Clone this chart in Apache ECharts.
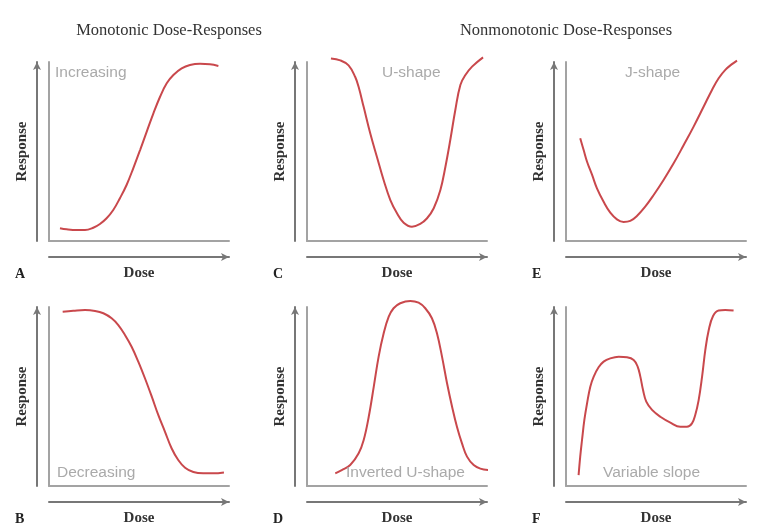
<!DOCTYPE html>
<html>
<head>
    <meta charset="utf-8">
    <title>Dose-Responses</title>
    <script src="https://cdn.jsdelivr.net/npm/echarts@6/dist/echarts.min.js"></script>
</head>
<body style="margin:0;background:#fff;">
    <div id="main" style="width:778px;height:528px;"></div>
    <script type="text/javascript">
        // curve shapes (x: dose 0-100, y: response 0-100)
        var incX = [6.1, 9.8, 15.4, 20, 24.6, 28.3, 32, 35.7, 39.4, 43.1, 46.8, 50.6, 54.3, 58, 61.7, 65.4, 69.1, 73.7, 78.3, 83.9, 89.4, 94.1];
        var incY = [7.1, 6.5, 6.1, 6.1, 7.4, 9.5, 12.7, 17.3, 23.9, 31.3, 40.6, 50.8, 61.1, 71.3, 80.6, 88.1, 92.7, 96.4, 98.3, 99, 98.7, 97.8];

        var decX = [7.6, 13.5, 20, 25.6, 30.2, 34.8, 38.5, 42.2, 45.9, 49.6, 53.3, 57.1, 60.7, 64.4, 68.1, 71.8, 75.6, 80.2, 85.7, 91.3, 97.2];
        var decY = [97.4, 97.9, 98.3, 97.8, 96.5, 93.7, 89.9, 84.4, 77.8, 69.5, 60.2, 49.9, 39.7, 30.4, 21.1, 14.5, 10.2, 7.8, 7.1, 7.1, 7.6];

        var uX = [13.3, 18.5, 23.1, 26.8, 28.7, 31.5, 35.2, 38.9, 42.6, 46.3, 50, 53.7, 58.3, 62.9, 66.7, 70.4, 74.1, 76.9, 79.6, 82.4, 85.2, 88, 91.7, 97.8];
        var uY = [102, 100.9, 98.1, 91.6, 86, 74.8, 59.9, 46.8, 33.9, 22.9, 15.5, 10.2, 8, 9.5, 12.7, 18.3, 28.5, 41.5, 56.4, 73.2, 87.2, 92.7, 97.4, 102.6];

        var invX = [15.7, 19.3, 24, 28.7, 31.5, 34.3, 37.1, 39.8, 42.6, 45.4, 48.1, 51.8, 57.4, 62, 65.7, 69.4, 72.2, 75, 77.8, 80.6, 83.3, 86.1, 88.9, 92.6, 96.3, 100.9];
        var invY = [7.1, 8.9, 11.7, 18.3, 25.7, 38.7, 55.5, 72.3, 85.3, 94.6, 99.3, 102.1, 103.4, 102.4, 99.3, 93.7, 85.3, 72.3, 57.4, 44.3, 33.1, 23.8, 16.4, 11.7, 9.7, 8.9];

        var jX = [7.9, 9.8, 11.7, 14.5, 17.2, 20.9, 24.6, 28.3, 32, 35.7, 39.4, 44, 48.7, 54.2, 59.8, 65.4, 70.9, 76.5, 81.1, 84.8, 88.5, 92.2, 95];
        var jY = [57.4, 50.8, 44.3, 36.9, 29.4, 21.9, 15.8, 12.1, 10.6, 11.2, 14, 19.2, 25.7, 34.1, 43.4, 53.6, 63.9, 75.1, 84.4, 90.9, 95.6, 98.8, 100.8];

        var varX = [7, 7.9, 8.9, 10.2, 11.7, 13.5, 15.4, 18.1, 20.9, 24.6, 29.3, 33.9, 37.6, 39.8, 41.3, 42.8, 44.6, 47.8, 52.4, 58, 63.5, 67.2, 70, 71.8, 73.7, 75.6, 77.4, 79.3, 81.7, 84.8, 88.5, 93.1];
        var varY = [6.1, 16.4, 25.7, 36.9, 46.2, 55.5, 61.1, 66.3, 69.5, 71.3, 72.2, 71.9, 70.4, 66.7, 61.1, 53.6, 47.1, 42.5, 38.7, 35.4, 33.1, 33.1, 35, 39.7, 48, 61.1, 76, 87.2, 95, 98, 98.3, 98];

        var panelLetters = ['A', 'B', 'C', 'D', 'E', 'F'];
        var panelLabels = ['Increasing', 'Decreasing', 'U-shape', 'Inverted U-shape', 'J-shape', 'Variable slope'];
        var headings = ['Monotonic Dose-Responses', 'Nonmonotonic Dose-Responses'];

        var curves = [[incX, incY], [decX, decY], [uX, uY], [invX, invY], [jX, jY], [varX, varY]];

        // panel positions (column, row)
        var colLeft = [49, 307, 566];
        var rowTop = [62, 307];
        var plotW = 180, plotH = 179;

        var serif = 'Liberation Serif';
        var sans = 'Liberation Sans';

        var myChart = echarts.init(document.getElementById('main'));

        var option = {
            backgroundColor: '#fff',
            animation: false,
            title: [],
            grid: [],
            xAxis: [],
            yAxis: [],
            series: []
        };

        option.title.push({
            text: headings[0], left: 169, top: 22, textAlign: 'center', padding: 0,
            textStyle: {fontFamily: serif, fontSize: 16.5, fontWeight: 'normal', color: '#333'}
        });
        option.title.push({
            text: headings[1], left: 566, top: 22, textAlign: 'center', padding: 0,
            textStyle: {fontFamily: serif, fontSize: 16.5, fontWeight: 'normal', color: '#333'}
        });

        var labelPos = [[55, 65], [57, 465], [382, 65], [346, 465], [625, 65], [603, 465]];

        function axis(grid, extra) {
            var ax = {
                type: 'value', gridIndex: grid, min: 0, max: 100,
                axisTick: {show: false}, axisLabel: {show: false}, splitLine: {show: false}
            };
            for (var key in extra) ax[key] = extra[key];
            return ax;
        }
        function frameLine() {
            return {show: true, onZero: false, lineStyle: {color: '#a3a3a3', width: 2}};
        }
        function arrowLine() {
            return {show: true, onZero: false, symbol: ['none', 'arrow'], symbolSize: [6, 8],
                lineStyle: {color: '#777', width: 2}};
        }

        for (var i = 0; i < 6; i++) {
            var col = Math.floor(i / 2), row = i % 2;
            var pLeft = colLeft[col], pTop = rowTop[row];
            var g = option.grid.length;

            // grid with the curve and the gray frame
            option.grid.push({left: pLeft, top: pTop, width: plotW, height: plotH});
            option.xAxis.push(axis(g, {axisLine: frameLine()}));
            option.yAxis.push(axis(g, {axisLine: frameLine()}));

            // grid carrying the Dose arrow
            option.grid.push({left: pLeft, top: pTop, width: plotW, height: plotH + 16});
            option.xAxis.push(axis(g + 1, {
                axisLine: arrowLine(), name: 'Dose', nameLocation: 'middle', nameGap: 9,
                nameTextStyle: {fontFamily: serif, fontSize: 15, fontWeight: 'bold', color: '#333', verticalAlign: 'top'}
            }));
            option.yAxis.push(axis(g + 1, {axisLine: {show: false}}));

            // grid carrying the Response arrow
            option.grid.push({left: pLeft - 12, top: pTop, width: plotW + 12, height: plotH});
            option.xAxis.push(axis(g + 2, {axisLine: {show: false}}));
            option.yAxis.push(axis(g + 2, {
                axisLine: arrowLine(), name: 'Response', nameLocation: 'middle', nameGap: 7, nameRotate: 90,
                nameTextStyle: {fontFamily: serif, fontSize: 15, fontWeight: 'bold', color: '#333'}
            }));

            var pts = [];
            for (var k = 0; k < curves[i][0].length; k++) {
                pts.push([curves[i][0][k], curves[i][1][k]]);
            }
            option.series.push({
                type: 'line', xAxisIndex: g, yAxisIndex: g,
                data: pts, smooth: 0.4, showSymbol: false, clip: false,
                lineStyle: {color: '#c9484c', width: 2}
            });

            option.title.push({
                text: panelLetters[i], left: pLeft - 34, top: pTop + 205, padding: 0,
                textStyle: {fontFamily: serif, fontSize: 14, fontWeight: 'bold', color: '#222'}
            });
            option.title.push({
                text: panelLabels[i], left: labelPos[i][0], top: labelPos[i][1], padding: 0,
                textStyle: {fontFamily: sans, fontSize: 15.5, fontWeight: 'normal', color: '#aaaaaa'}
            });
        }

        myChart.setOption(option);
    </script>
</body>
</html>
